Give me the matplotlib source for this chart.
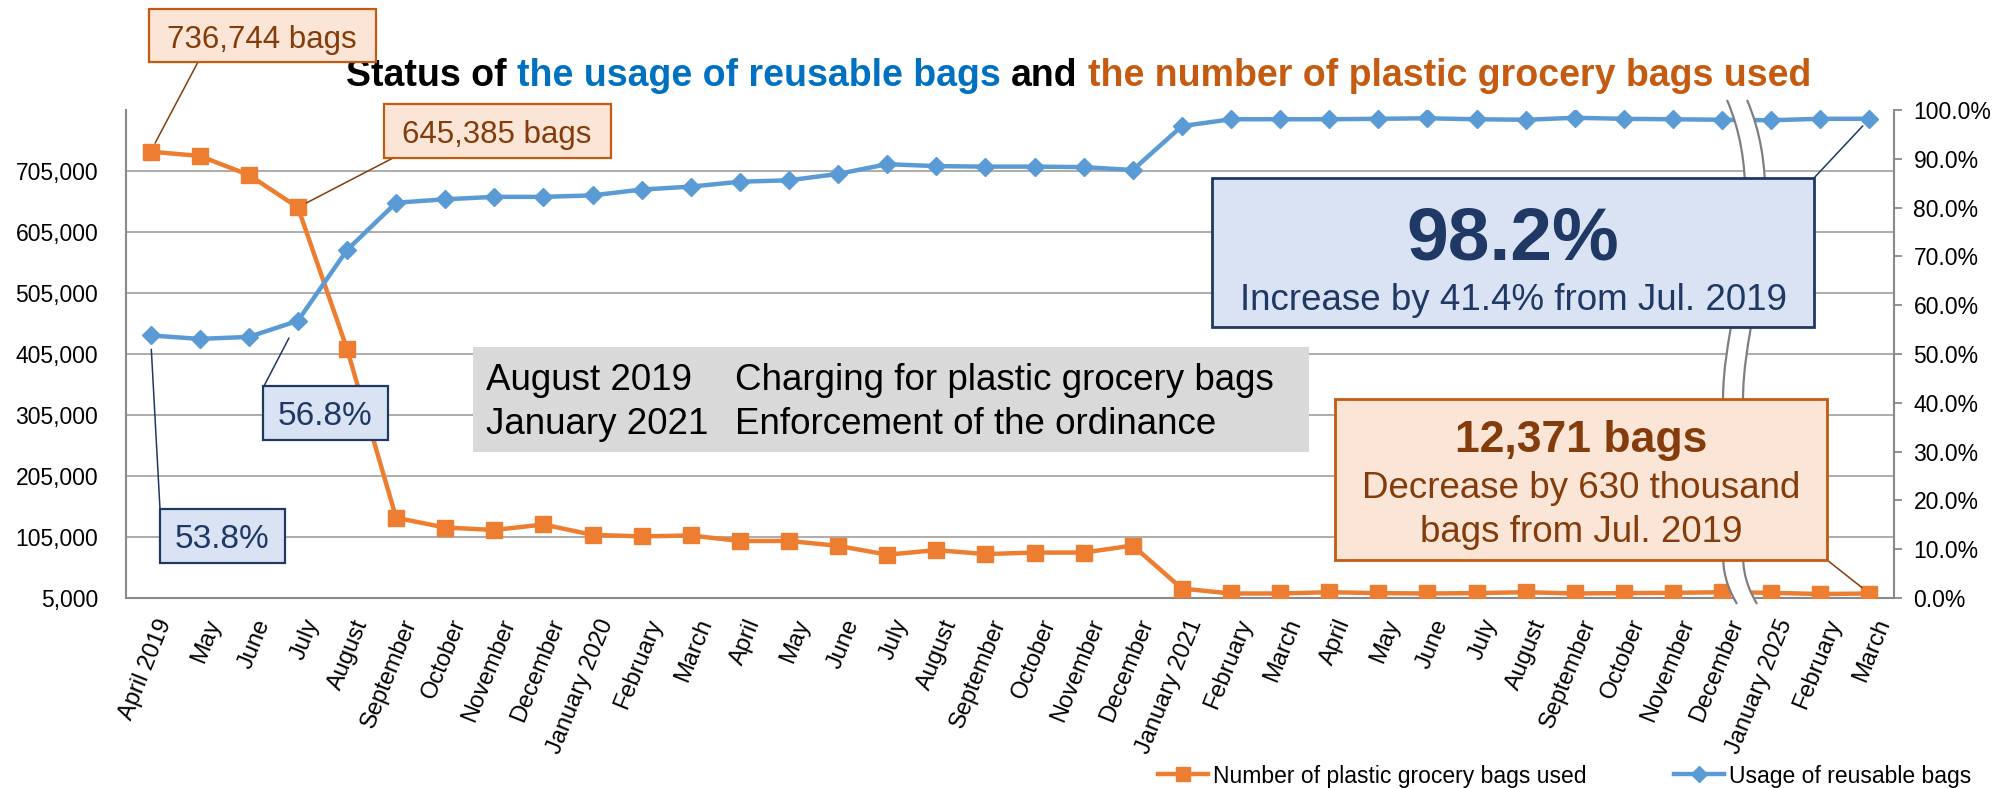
import numpy as np
import matplotlib
matplotlib.use("Agg")
import matplotlib.pyplot as plt
import matplotlib.ticker as mticker
import matplotlib.transforms as mtransforms
from matplotlib.lines import Line2D
from matplotlib.patches import Rectangle, PathPatch, ConnectionPatch
from matplotlib.path import Path

plt.rcParams['font.family'] = ['Liberation Sans', 'DejaVu Sans']

# month labels as printed under the x axis
months = ["April 2019", "May", "June", "July", "August", "September", "October",
          "November", "December", "January 2020", "February", "March", "April",
          "May", "June", "July", "August", "September", "October", "November",
          "December", "January 2021", "February", "March", "April", "May", "June",
          "July", "August", "September", "October", "November", "December",
          "January 2025", "February", "March"]

# number of plastic grocery bags used (left axis)
plastic_bags = [736744, 729700, 698500, 645385, 413500, 136500, 120500, 116500,
                125500, 108500, 106000, 107500, 98500, 98500, 90500, 76000,
                83500, 77000, 79500, 79500, 91000, 20500, 12400, 12400, 14500,
                13000, 12400, 13000, 14500, 12400, 13000, 13500, 14500, 13500,
                11500, 12371]

# usage rate of reusable bags (right axis)
reusable_rate = [0.538, 0.531, 0.535, 0.568, 0.713, 0.810, 0.817, 0.822, 0.822,
                 0.825, 0.837, 0.843, 0.853, 0.856, 0.869, 0.889, 0.885, 0.884,
                 0.884, 0.883, 0.877, 0.967, 0.981, 0.981, 0.981, 0.982, 0.983,
                 0.981, 0.980, 0.984, 0.982, 0.981, 0.980, 0.979, 0.982, 0.982]

left_ticks = list(range(5000, 705001, 100000))
right_ticks = [i / 10 for i in range(11)]

ORANGE = '#ED7D31'
BLUE = '#5B9BD5'
NAVY = '#203864'
BROWN = '#843C0C'
GRID = '#A6A6A6'
AXIS = '#898989'

W, H = 2011, 788
fig = plt.figure(figsize=(W / 100, H / 100), dpi=100)


def fx(px):
    return px / W


def fy(py):
    return 1 - py / H


ax = fig.add_axes([fx(126), fy(598), fx(1894) - fx(126), fy(110) - fy(598)])
ax2 = ax.twinx()

x = np.arange(len(months))
ax.plot(x, plastic_bags, color=ORANGE, lw=3.2, marker='s', ms=12, zorder=3)
ax2.plot(x, reusable_rate, color=BLUE, lw=3.2, marker='D', ms=9, zorder=3)

ax.set_xlim(-0.5, len(months) - 0.5)
ax.set_ylim(5000, 805000)
ax.set_yticks(left_ticks)
ax.yaxis.set_major_formatter(mticker.FuncFormatter(lambda v, _: f"{int(v):,}"))
ax.yaxis.grid(True, color=GRID, lw=1.3)
ax.set_axisbelow(True)
ax.tick_params(axis='y', length=0, pad=20, labelsize=16.5)

ax.set_xticks(x)
ax.set_xticklabels(months, rotation=68, ha='right', va='center',
                   rotation_mode='anchor', fontsize=17)
ax.tick_params(axis='x', length=0, pad=16)
shift = mtransforms.ScaledTranslation(0.15, 0, fig.dpi_scale_trans)
for lab in ax.get_xticklabels():
    lab.set_transform(lab.get_transform() + shift)

ax2.set_ylim(0, 1)
ax2.set_yticks(right_ticks)
ax2.yaxis.set_major_formatter(mticker.PercentFormatter(1.0, decimals=1))
ax2.tick_params(axis='y', length=6, width=1.3, color=AXIS, pad=8, labelsize=16.5)

for a in (ax, ax2):
    for side in a.spines:
        a.spines[side].set_visible(False)
ax.spines['left'].set_visible(True)
ax.spines['bottom'].set_visible(True)
ax2.spines['right'].set_visible(True)
for sp in (ax.spines['left'], ax.spines['bottom'], ax2.spines['right']):
    sp.set_color(AXIS)
    sp.set_linewidth(1.5)

# wavy break marks between December and January 2025
wave_codes = [Path.MOVETO] + [Path.CURVE4] * 6 + [Path.LINETO] + [Path.CURVE4] * 3
wave_pts = [(1727, 100), (1740, 130), (1746, 165), (1745, 200),
            (1744, 290), (1723, 340), (1723, 400), (1723, 555),
            (1723, 580), (1732, 595), (1737, 604)]


def wave(dx):
    return [(fx(px + dx), fy(py)) for px, py in wave_pts]


left_w, right_w = wave(0), wave(20)
band_codes = (wave_codes + [Path.LINETO] + [Path.CURVE4] * 3 + [Path.LINETO]
              + [Path.CURVE4] * 6 + [Path.CLOSEPOLY])
band = Path(left_w + right_w[::-1] + [left_w[0]], band_codes)
ax2.add_artist(PathPatch(band, transform=fig.transFigure, facecolor='white',
                         edgecolor='none', clip_on=False, zorder=5))
for pts in (left_w, right_w):
    ax2.add_artist(PathPatch(Path(pts, wave_codes), transform=fig.transFigure,
                             fill=False, edgecolor='#7F7F7F', lw=1.6,
                             clip_on=False, zorder=6))


def add_box(x0, y0, x1, y1, face, edge=None, lw=1.6):
    fig.add_artist(Rectangle((fx(x0), fy(y1)), fx(x1) - fx(x0), fy(y0) - fy(y1),
                             transform=fig.transFigure, facecolor=face,
                             edgecolor=edge if edge else 'none', lw=lw, zorder=10))


def add_text(px, py, s, **kw):
    kw.setdefault('ha', 'center')
    kw.setdefault('va', 'baseline')
    fig.text(fx(px), fy(py), s, zorder=11, **kw)


def leader(px, py, xi, val, axis, color, shrink):
    fig.add_artist(ConnectionPatch(xyA=(fx(px), fy(py)), coordsA=fig.transFigure,
                                   xyB=(xi, val), coordsB=axis.transData,
                                   color=color, lw=1.1, shrinkB=shrink, zorder=9))


# title with coloured parts
title_parts = [("Status of", 'black'), ("the usage of reusable bags", '#0070C0'),
               ("and", 'black'), ("the number of plastic grocery bags used", '#C55A11')]
renderer = fig.canvas.get_renderer()
probe = fig.text(0, 0, "x x", fontsize=27, fontweight='bold')
w_sp = probe.get_window_extent(renderer).width
probe.set_text("xx")
w_sp -= probe.get_window_extent(renderer).width
probe.remove()
cur = 346
for s, c in title_parts:
    t = fig.text(fx(cur), fy(86), s, color=c, fontsize=27, fontweight='bold',
                 va='baseline')
    cur = t.get_window_extent(renderer).x1 + w_sp

# plastic bag value callouts
add_box(149, 9, 376, 62, '#FBE5D6', '#C55A11')
add_text(262, 48, "736,744 bags", color=BROWN, fontsize=22.5)
leader(198, 62, 0, plastic_bags[0], ax, BROWN, 7)

add_box(384, 104, 611, 158, '#FBE5D6', '#C55A11')
add_text(497, 143, "645,385 bags", color=BROWN, fontsize=22.5)
leader(393, 158, 3, plastic_bags[3], ax, BROWN, 7)

# reusable rate callouts
add_box(263, 386, 388, 440, '#DAE3F3', NAVY)
add_text(325, 425, "56.8%", color=NAVY, fontsize=24)
leader(264, 386, 3, reusable_rate[3], ax2, NAVY, 14)

add_box(160, 509, 285, 563, '#DAE3F3', NAVY)
add_text(222, 548, "53.8%", color=NAVY, fontsize=24)
leader(160, 509, 0, reusable_rate[0], ax2, NAVY, 10)

# policy note
add_box(473, 347, 1309, 452, '#D9D9D9')
add_text(486, 390, "August 2019", ha='left', fontsize=26.5)
add_text(735, 390, "Charging for plastic grocery bags", ha='left', fontsize=26.5)
add_text(486, 434, "January 2021", ha='left', fontsize=26.5)
add_text(735, 434, "Enforcement of the ordinance", ha='left', fontsize=26.5)

# latest values
add_box(1212, 178, 1814, 327, '#DAE3F3', NAVY, 2)
add_text(1513, 260, "98.2%", color=NAVY, fontsize=54, fontweight='bold')
add_text(1513, 310, "Increase by 41.4% from Jul. 2019", color=NAVY, fontsize=26.5)
leader(1814, 178, 35, reusable_rate[-1], ax2, NAVY, 7)

add_box(1335, 399, 1827, 560, '#FBE5D6', '#C55A11', 2)
add_text(1581, 452, "12,371 bags", color=BROWN, fontsize=32, fontweight='bold')
add_text(1581, 498, "Decrease by 630 thousand", color=BROWN, fontsize=26.5)
add_text(1581, 542, "bags from Jul. 2019", color=BROWN, fontsize=26.5)
leader(1827, 560, 35, plastic_bags[-1], ax, BROWN, 7)

handles = [Line2D([], [], color=ORANGE, lw=3.2, marker='s', ms=10),
           Line2D([], [], color=BLUE, lw=3.2, marker='D', ms=8)]
fig.legend(handles, ["Number of plastic grocery bags used", "Usage of reusable bags"],
           loc='center left', bbox_to_anchor=(fx(1158), fy(776)), ncol=2,
           frameon=False, fontsize=16.5, handlelength=2.2, handletextpad=0.2,
           columnspacing=3.8, borderpad=0, borderaxespad=0)

fig.savefig("out.png", dpi=100, facecolor='white')
